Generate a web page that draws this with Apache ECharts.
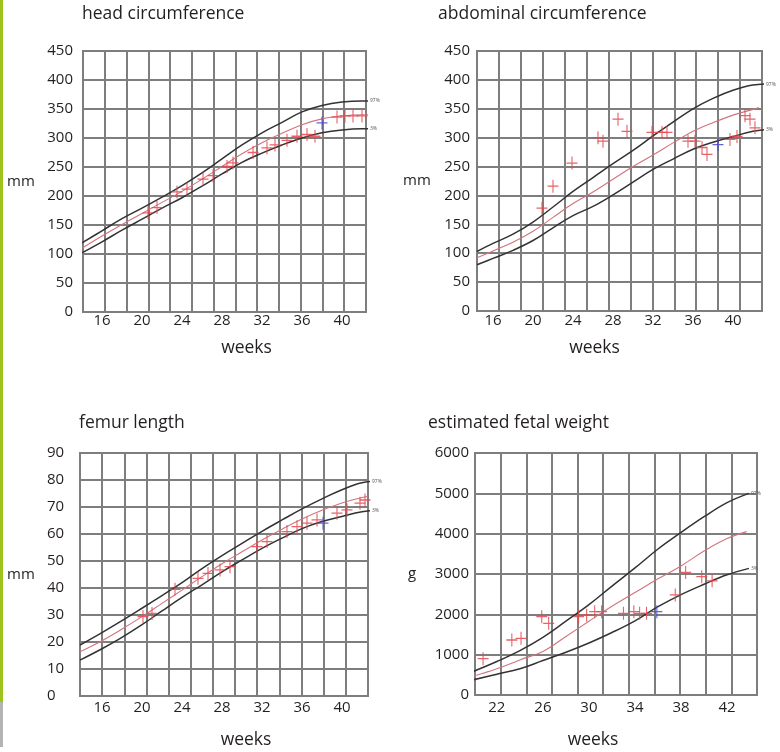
<!DOCTYPE html>
<html>
<head>
<meta charset="utf-8">
<title>fetal biometry</title>
<script src="https://cdn.jsdelivr.net/npm/echarts@6/dist/echarts.min.js"></script>
<style>
html, body { margin: 0; padding: 0; background: #fff; }
#main { width: 780px; height: 752px; }
</style>
</head>
<body>
<div id="main"></div>
<script>
// head circumference (mm)
var hcWeeks = [14, 16, 18, 20, 22, 24, 26, 28, 30, 32, 34, 36, 38, 40, 42, 43.5];
var hcUpper = [119, 140, 161, 179, 198, 218, 240, 264, 288, 309, 327, 345, 356, 362, 364, 364];
var hcLower = [102, 121, 141, 160, 179, 197, 217, 238, 258, 274, 288, 300, 309, 314, 316, 316];
var hcMidWeeks = [14, 16, 18, 20, 22, 24, 26, 28, 30, 32, 34, 36, 38, 40, 42, 42.6];
var hcMid = [110, 131, 151, 170, 189, 208, 229, 251, 273, 292, 308, 323, 333, 338, 340, 340];
var hcPtWeeks = [20.6, 21.5, 23.5, 24.5, 26.1, 27.1, 28.5, 29.1, 31.1, 32.5, 33.3, 34.5, 35.5, 36.5, 37.3, 39.5, 40.3, 41.1, 42];
var hcPtValues = [171, 180, 207, 212, 229, 235, 251, 257, 275, 283, 288, 296, 303, 306, 303, 336, 338, 338, 338];
var hcBlue = [38, 326];

// abdominal circumference (mm)
var acWeeks = [14.4, 16, 18, 20, 22, 24, 26, 28, 30, 32, 34, 36, 38, 40, 42, 43.8];
var acUpper = [103, 117, 133, 154, 180, 207, 231, 255, 278, 303, 327, 350, 368, 382, 391, 393];
var acLower = [80, 91, 105, 122, 144, 165, 181, 201, 223, 245, 263, 280, 292, 302, 311, 315];
var acMidWeeks = [14.4, 16, 18, 20, 22, 24, 26, 28, 30, 32, 34, 36, 38, 40, 42, 42.6];
var acMid = [92, 104, 119, 138, 162, 186, 206, 228, 250, 270, 291, 311, 326, 339, 349, 352];
var acPtWeeks = [20.9, 22.0, 23.9, 26.5, 27.0, 28.5, 29.4, 31.9, 32.9, 33.4, 35.5, 36.2, 36.9, 37.4, 39.7, 40.4, 41.2, 41.7, 42.2];
var acPtValues = [178, 216, 256, 300, 294, 332, 311, 309, 309, 309, 294, 294, 283, 271, 297, 302, 338, 332, 317];
var acBlue = [38.5, 288];

// femur length (mm)
var flWeeks = [13.8, 16, 18, 20, 22, 24, 26, 28, 30, 32, 34, 36, 38, 40, 42, 43.6];
var flUpper = [18.9, 23.5, 27.9, 32.5, 37.2, 42.0, 47.2, 52.0, 56.5, 61.0, 65.2, 69.3, 73.0, 76.4, 79.0, 79.5];
var flLower = [13.3, 17.5, 21.7, 26.4, 31.5, 36.5, 41.2, 46.0, 50.4, 54.7, 58.5, 62.0, 64.6, 66.5, 68.2, 68.9];
var flMidWeeks = [13.8, 16, 18, 20, 22, 24, 26, 28, 30, 32, 34, 36, 38, 40, 42, 42.6];
var flMid = [16.4, 20.5, 24.8, 29.4, 34.3, 39.2, 44.2, 49.0, 53.4, 57.8, 61.8, 65.6, 68.8, 71.5, 73.5, 74];
var flPtWeeks = [20.1, 21.0, 23.3, 25.6, 26.6, 27.8, 28.8, 31.5, 32.5, 34.5, 35.5, 36.5, 37.5, 39.5, 40.5, 41.8, 42.3];
var flPtValues = [29.4, 30.6, 39.5, 43.6, 45.4, 46.7, 47.9, 55.3, 57.2, 60.9, 62.7, 64.0, 65.2, 67.7, 68.9, 71.4, 72.6];
var flBlue = [38.1, 64.0];

// estimated fetal weight (g)
var efwWeeks = [20, 22, 24, 26, 28, 30, 32, 34, 36, 38, 40, 42, 43.9];
var efwUpper = [590, 830, 1100, 1430, 1830, 2240, 2700, 3150, 3620, 4030, 4420, 4770, 5000];
var efwLower = [380, 515, 650, 855, 1060, 1290, 1550, 1840, 2190, 2490, 2745, 2980, 3140];
var efwMidWeeks = [20, 22, 24, 26, 28, 30, 32, 34, 36, 38, 40, 42, 43.7];
var efwMid = [470, 650, 870, 1080, 1450, 1830, 2200, 2540, 2880, 3200, 3570, 3880, 4050];
var efwPtWeeks = [20.8, 23.3, 24.1, 25.9, 26.5, 29.1, 29.8, 30.5, 31.1, 33.0, 33.9, 34.4, 35.0, 37.5, 38.4, 39.8, 40.7];
var efwPtValues = [900, 1364, 1405, 1942, 1777, 1942, 1980, 2066, 2066, 2025, 2066, 2025, 2025, 2480, 3040, 2933, 2830];
var efwBlue = [35.9, 2066];

// tick labels
var weekTicks = [16, 20, 24, 28, 32, 36, 40];
var efwWeekTicks = [22, 26, 30, 34, 38, 42];
var endTags = ['97%', '3%'];

var FONT = 'Open Sans';
var TEXT = '#231f20';
var GRIDLINE = { color: '#7e7e7e', width: 2 };
var CROSS = 'path://M9,0h2v9h9v2h-9v9h-2v-9h-9v-2h9z';

function pairs(xs, ys) {
	var out = [];
	for (var i = 0; i < xs.length && i < ys.length; i++) {
		out.push([xs[i], ys[i]]);
	}
	return out;
}

// one panel = grid, a week axis, a hidden axis for the printed vertical rules, a value axis
var panels = [
	{ title: 'head circumference', tx: 82, ty: 5, left: 83, top: 51, width: 283, height: 261,
	  xMin: 14.1, xMax: 42.4, ticks: weekTicks, cells: 13, xMargin: 1, namePad: [0, 0, 0, 44], xNameGap: 36,
	  yMax: 450, yStep: 50, yName: 'mm', yNameGap: 62, yMargin: 10, yAlign: 'right' },
	{ title: 'abdominal circumference', tx: 438, ty: 5, left: 477, top: 51, width: 285, height: 260,
	  xMin: 14.4, xMax: 42.9, ticks: weekTicks, cells: 13, xMargin: 2, namePad: [0, 50, 0, 0], xNameGap: 37,
	  yMax: 450, yStep: 50, yName: 'mm', yNameGap: 60, yMargin: 7, yAlign: 'right' },
	{ title: 'femur length', tx: 79, ty: 414, left: 80, top: 453, width: 288, height: 243,
	  xMin: 13.8, xMax: 42.6, ticks: weekTicks, cells: 13, xMargin: 4, namePad: [0, 0, 0, 44], xNameGap: 44,
	  yMax: 90, yStep: 10, yName: 'mm', yNameGap: 59, yMargin: 33, yAlign: 'left' },
	{ title: 'estimated fetal weight', tx: 428, ty: 414, left: 475, top: 453, width: 282, height: 242,
	  xMin: 20.1, xMax: 44.6, ticks: efwWeekTicks, cells: 11, xMargin: 5, namePad: [0, 46, 0, 0], xNameGap: 45,
	  yMax: 6000, yStep: 1000, yName: 'g', yNameGap: 63, yMargin: 6, yAlign: 'right' }
];

var sets = [
	{ w: hcWeeks, up: hcUpper, lo: hcLower, mw: hcMidWeeks, mid: hcMid, pw: hcPtWeeks, pv: hcPtValues, blue: hcBlue },
	{ w: acWeeks, up: acUpper, lo: acLower, mw: acMidWeeks, mid: acMid, pw: acPtWeeks, pv: acPtValues, blue: acBlue },
	{ w: flWeeks, up: flUpper, lo: flLower, mw: flMidWeeks, mid: flMid, pw: flPtWeeks, pv: flPtValues, blue: flBlue },
	{ w: efwWeeks, up: efwUpper, lo: efwLower, mw: efwMidWeeks, mid: efwMid, pw: efwPtWeeks, pv: efwPtValues, blue: efwBlue }
];

var option = {
	backgroundColor: '#fff',
	animation: false,
	textStyle: { fontFamily: FONT, color: TEXT },
	title: [],
	grid: [],
	xAxis: [],
	yAxis: [],
	series: [],
	graphic: [
		// green page edge, grey bit under it
		{ type: 'rect', shape: { x: 0, y: 0, width: 3, height: 702 }, style: { fill: '#9dc41c' } },
		{ type: 'rect', shape: { x: 0, y: 702, width: 3, height: 45 }, style: { fill: '#b4b4b4' } }
	]
};

function curve(g, xs, ys, color, width, tag) {
	var s = {
		type: 'line',
		xAxisIndex: g * 2,
		yAxisIndex: g,
		data: pairs(xs, ys),
		smooth: 0.4,
		symbol: 'none',
		clip: false,
		silent: true,
		z: 3,
		lineStyle: { color: color, width: width }
	};
	if (tag) {
		s.endLabel = { show: true, formatter: tag, fontSize: 5, color: '#555', distance: 2 };
	}
	return s;
}

function crosses(g, data, color, z) {
	return {
		type: 'scatter',
		xAxisIndex: g * 2,
		yAxisIndex: g,
		data: data,
		symbol: CROSS,
		symbolSize: [11, 13],
		clip: false,
		silent: true,
		z: z,
		itemStyle: { color: color, opacity: 0.85 }
	};
}

for (var g = 0; g < panels.length; g++) {
	var p = panels[g];
	var d = sets[g];

	option.title.push({
		text: p.title, left: p.tx, top: p.ty, padding: 0,
		textStyle: { fontFamily: FONT, fontSize: 17.5, fontWeight: 'normal', color: TEXT }
	});

	option.grid.push({
		left: p.left, top: p.top, width: p.width, height: p.height,
		show: true, backgroundColor: '#fff', borderColor: '#7e7e7e', borderWidth: 2
	});

	option.xAxis.push({
		gridIndex: g, type: 'value', min: p.xMin, max: p.xMax,
		name: 'weeks', nameLocation: 'middle', nameGap: p.xNameGap,
		nameTextStyle: { fontFamily: FONT, fontSize: 17.5, color: TEXT, align: 'center', verticalAlign: 'middle', padding: p.namePad },
		axisLine: { show: false }, axisTick: { show: false }, splitLine: { show: false },
		axisLabel: { customValues: p.ticks, margin: p.xMargin, fontFamily: FONT, fontSize: 15, color: TEXT }
	});
	option.xAxis.push({
		gridIndex: g, type: 'value', min: 0, max: p.cells, interval: 1, position: 'top',
		axisLine: { show: false }, axisTick: { show: false }, axisLabel: { show: false },
		splitLine: { show: true, lineStyle: GRIDLINE }
	});

	option.yAxis.push({
		gridIndex: g, type: 'value', min: 0, max: p.yMax, interval: p.yStep,
		name: p.yName, nameLocation: 'middle', nameRotate: 0, nameGap: p.yNameGap,
		nameTextStyle: { fontFamily: FONT, fontSize: 15, color: TEXT, align: 'center', verticalAlign: 'middle' },
		axisLine: { show: false }, axisTick: { show: false },
		splitLine: { show: true, lineStyle: GRIDLINE },
		axisLabel: {
			margin: p.yMargin, align: p.yAlign, fontFamily: FONT, fontSize: 15, color: TEXT,
			formatter: function(v) { return String(v); }
		}
	});

	option.series.push(curve(g, d.w, d.up, '#333', 1.5, endTags[0]));
	option.series.push(curve(g, d.w, d.lo, '#333', 1.5, endTags[1]));
	option.series.push(curve(g, d.mw, d.mid, '#d2737c', 1.1));
	option.series.push(crosses(g, pairs(d.pw, d.pv), '#e4474c', 4));
	option.series.push(crosses(g, [d.blue], '#4a4ad0', 5));
}

var myChart = echarts.init(document.getElementById('main'), null, { renderer: 'canvas' });
myChart.setOption(option);
</script>
</body>
</html>
